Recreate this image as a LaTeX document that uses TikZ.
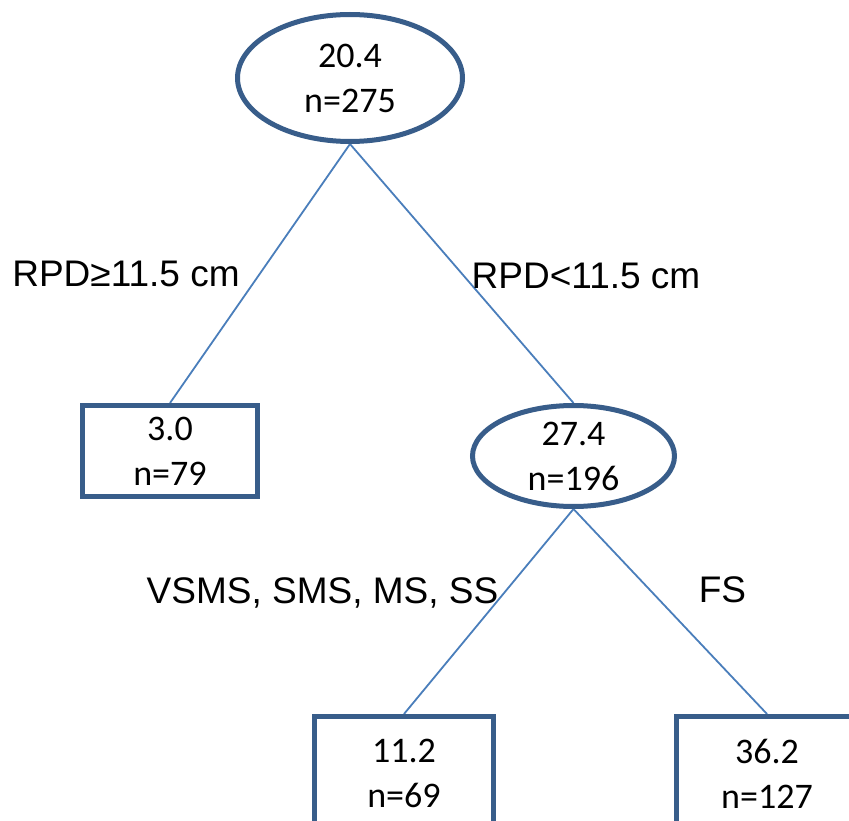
\documentclass[tikz,border=0pt]{standalone}
\usepackage{fontspec}
\newfontfamily\nodefont{Carlito}
\newfontfamily\labelfont{Liberation Sans}
\usetikzlibrary{shapes.geometric,backgrounds}
\definecolor{borderblue}{HTML}{385D8A}
\definecolor{linkblue}{HTML}{4A7EBB}
\begin{document}
\begin{tikzpicture}[x=1pt,y=-1pt,
  treenode/.style={draw=borderblue,line width=5pt,fill=white,inner sep=0pt,
    align=center,font=\nodefont\fontsize{36}{45}\selectfont},
  splitnode/.style={treenode,ellipse},
  leafnode/.style={treenode,rectangle},
  link/.style={draw=linkblue,line width=1.8pt},
  cond/.style={anchor=base,inner sep=0pt,font=\labelfont\fontsize{37}{44}\selectfont}]
\useasboundingbox (0,0) rectangle (849,821);
\clip (0,0) rectangle (849,821);

% split nodes
\node[splitnode,minimum width=225pt,minimum height=127pt] (root) at (350,78) {20.4\\n=275};
\node[splitnode,minimum width=202pt,minimum height=101pt] (mid) at (573.5,456) {27.4\\n=196};

% leaves
\node[leafnode,minimum width=175pt,minimum height=91pt] (leafa) at (170,451) {3.0\\n=79};
\node[leafnode,minimum width=179pt,minimum height=114pt] (leafb) at (404,773.5) {11.2\\n=69};
\node[leafnode,minimum width=181pt,minimum height=114pt] (leafc) at (767,773.5) {36.2\\n=127};

% branches
\begin{scope}[on background layer]
\draw[link] (root.south) -- (leafa.north);
\draw[link] (root.south) -- (mid.north);
\draw[link] (mid.south) -- (leafb.north);
\draw[link] (mid.south) -- (leafc.north);
\end{scope}

% split conditions
\node[cond] (c1) at (126,287) {RPD≥11.5 cm};
\node[cond] (c2) at (586,288) {RPD<11.5 cm};
\node[cond] (c3) at (322.5,603) {VSMS, SMS, MS, SS};
\node[cond] (c4) at (722.5,602) {FS};
\end{tikzpicture}
\end{document}
